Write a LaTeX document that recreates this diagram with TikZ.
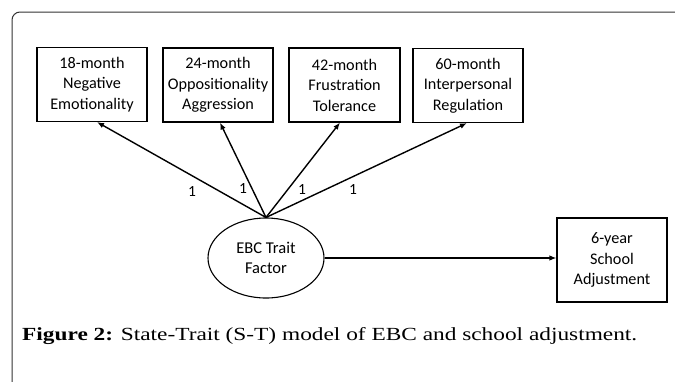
\documentclass[tikz,border=0pt]{standalone}
\usepackage{fontspec}
\setmainfont{Carlito}
\newfontfamily\capfont{Liberation Serif}
\usetikzlibrary{arrows.meta,shapes.geometric,calc}
\tikzset{
  vbox/.style={draw, line width=1.1pt, minimum width=110pt, minimum height=74pt, align=center, inner sep=0pt, font=\fontsize{16.2}{20.5}\selectfont},
  lat/.style={draw, ellipse, line width=1.1pt, minimum width=116pt, minimum height=80pt, align=center, inner sep=0pt, font=\fontsize{16.5}{20}\selectfont},
  path/.style={line width=1.4pt, -{Latex[length=7pt,width=5.5pt]}},
  lbl/.style={font=\fontsize{15.5}{17}\selectfont, inner sep=0pt},
  frame/.style={line width=1pt, draw=black!80, rounded corners=8pt}
}
\begin{document}
\begin{tikzpicture}[x=1pt,y=-1pt]
\useasboundingbox (0,0) rectangle (675,381);
\draw[frame] (12,390) -- (12,12) -- (690,12);
\node[vbox] (b1) at (92,84.5) {18-month\\Negative\\Emotionality};
\node[vbox] (b2) at (218,85) {24-month\\Oppositionality\\Aggression};
\node[vbox, minimum width=111pt] (b3) at (344.5,85) {42-month\\Frustration\\Tolerance};
\node[vbox] (b4) at (468,85.5) {60-month\\Interpersonal\\Regulation};
\node[vbox, minimum height=84pt] (b5) at (612,260) {6-year\\School\\Adjustment};
\node[lat] (e) at (266,258) {EBC Trait\\Factor};
\draw[path] (e.north) -- ($(b1.south)+(5,0)$);
\draw[path] (e.north) -- ($(b2.south)+(2,0)$);
\draw[path] (e.north) -- ($(b3.south)+(-4.5,0)$);
\draw[path] (e.north) -- ($(b4.south)+(-1,0)$);
\draw[path] (e.east) -- (e.east -| b5.west);
\node[lbl] (l1) at (192,192) {1};
\node[lbl] (l2) at (243,189) {1};
\node[lbl] (l3) at (302,190) {1};
\node[lbl] (l4) at (353,190) {1};
\node[anchor=base west, inner sep=0pt] (cap) at (22,340) {\resizebox{615pt}{\height}{\capfont\fontsize{18.5}{22}\selectfont\textbf{Figure 2:} State-Trait (S-T) model of EBC and school adjustment.}};
\end{tikzpicture}
\end{document}
